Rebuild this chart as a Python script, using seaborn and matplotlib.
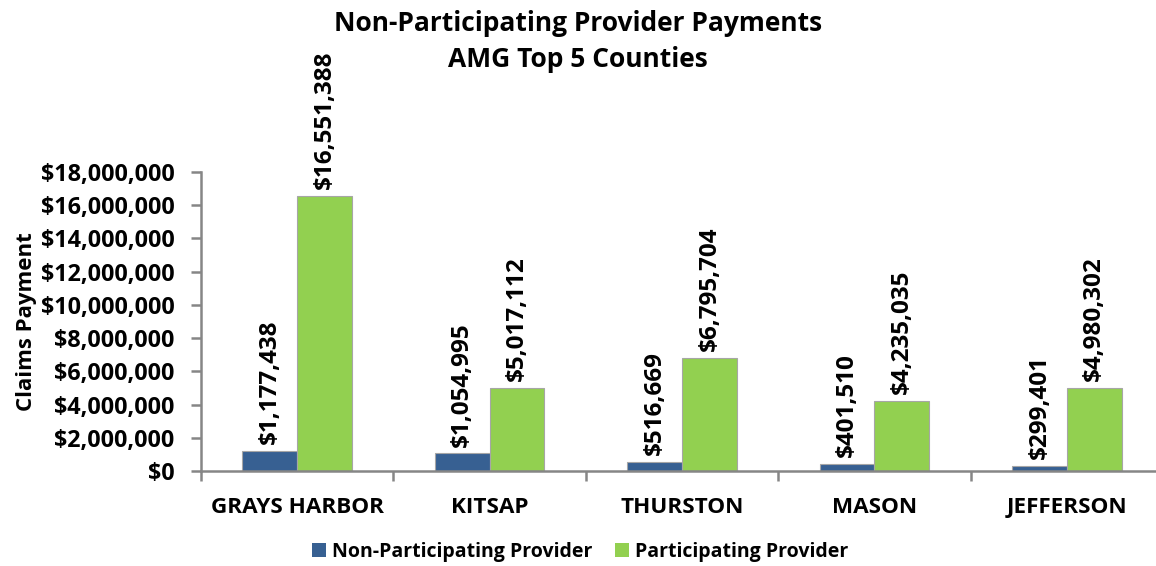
import matplotlib
matplotlib.use("Agg")
import matplotlib.pyplot as plt
import seaborn as sns
import pandas as pd
import numpy as np
from matplotlib.ticker import FuncFormatter

counties = ["GRAYS HARBOR", "KITSAP", "THURSTON", "MASON", "JEFFERSON"]
non_participating = [1177438, 1054995, 516669, 401510, 299401]
participating = [16551388, 5017112, 6795704, 4235035, 4980302]
series_names = ["Non-Participating Provider", "Participating Provider"]
colors = ["#376092", "#92D050"]

df = pd.DataFrame({
    "County": counties * 2,
    "Provider": [series_names[0]] * 5 + [series_names[1]] * 5,
    "Payment": non_participating + participating,
})

sns.set_theme(style="white")
plt.rcParams["font.family"] = ["Open Sans", "DejaVu Sans"]
plt.rcParams["font.weight"] = "bold"
plt.rcParams["text.color"] = "black"

fig = plt.figure(figsize=(11.56, 5.66), dpi=100)
ax = fig.add_axes([201/1156, 95/566, (1163-201)/1156, (471-172)/566])

sns.barplot(data=df, x="County", y="Payment", hue="Provider", order=counties,
            hue_order=series_names, palette=colors, width=0.57, gap=0,
            edgecolor="#A6A6A6", linewidth=0.8, saturation=1, ax=ax)

ax.set_xlim(-0.5, 4.5)
ax.set_ylim(0, 18000000)
ax.set_yticks(np.arange(0, 18000001, 2000000))
ax.yaxis.set_major_formatter(FuncFormatter(lambda v, p: f"${v:,.0f}"))

for cont, vals in zip(ax.containers, [non_participating, participating]):
    ax.bar_label(cont, labels=[f"${v:,.0f}" for v in vals], rotation=90,
                 padding=5, fontsize=17.5, fontweight="bold", color="black")

for s in ["top", "right"]:
    ax.spines[s].set_visible(False)
for s in ["left", "bottom"]:
    ax.spines[s].set_color("#868686")
    ax.spines[s].set_linewidth(1.8)

ax.tick_params(axis="y", which="major", length=7, width=1.8, color="#868686",
               labelsize=16.8, pad=12, left=True, labelcolor="black")
ax.tick_params(axis="x", which="major", length=0, labelsize=16.2, pad=19, labelcolor="black")
ax.set_xticks(np.arange(-0.5, 5, 1), minor=True)
ax.tick_params(axis="x", which="minor", length=7, width=1.8, color="#868686", bottom=True)
for lab in ax.get_xticklabels() + ax.get_yticklabels():
    lab.set_fontweight("bold")

ax.set_xlabel("")
ax.set_ylabel("Claims Payment", fontsize=16, fontweight="bold", labelpad=3, color="black")

fig.text(0.5, 0.982, "Non-Participating Provider Payments\nAMG Top 5 Counties",
         ha="center", va="top", fontsize=19, fontweight="bold", linespacing=1.4)

ax.legend_.remove()
handles = [plt.Rectangle((0, 0), 1, 1, facecolor=c, edgecolor="none") for c in colors]
fig.legend(handles, series_names, loc="center", bbox_to_anchor=(580/1156, 1 - 552/566),
           ncol=2, frameon=False, handlelength=0.7, handleheight=0.7,
           handletextpad=0.3, columnspacing=1.2, prop={"weight": "bold", "size": 14})

fig.savefig("out.png", dpi=100)
